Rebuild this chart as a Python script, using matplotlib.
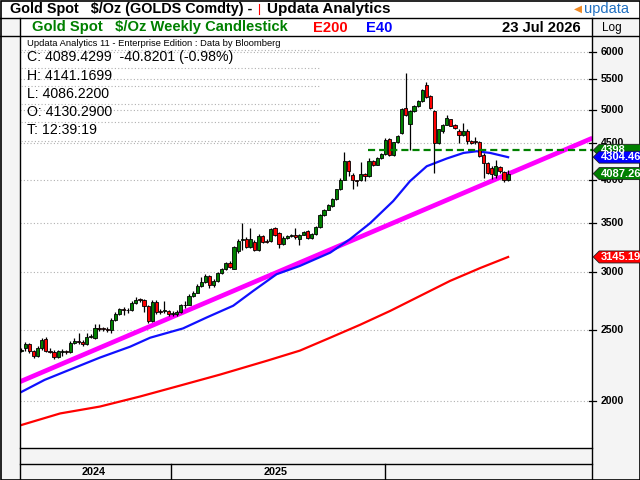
import matplotlib
matplotlib.use('Agg')
import matplotlib.pyplot as plt
from matplotlib.patches import Rectangle, Polygon
import numpy as np

plt.rcParams['font.family'] = ['Liberation Sans', 'DejaVu Sans']

# ---------------- data (weekly candles) ----------------
opens = [2340, 2360, 2390, 2342, 2305, 2360, 2430, 2342, 2336, 2298,
         2335, 2340, 2334, 2397, 2417, 2410, 2392, 2443, 2435, 2518,
         2508, 2505, 2500, 2582, 2630, 2667, 2658, 2662, 2718, 2750,
         2745, 2693, 2573, 2730, 2655, 2650, 2653, 2630, 2628, 2648,
         2700, 2708, 2785, 2812, 2875, 2905, 2960, 2880, 2917, 2992,
         3028, 3090, 3030, 3200, 3320, 3330, 3245, 3300, 3212, 3360,
         3310, 3305, 3440, 3390, 3280, 3340, 3360, 3368, 3330, 3375,
         3410, 3340, 3380, 3455, 3590, 3650, 3690, 3770, 3890, 4012,
         4255, 4075, 4003, 4000, 4088, 4062, 4250, 4205, 4295, 4345,
         4560, 4330, 4510, 4640, 5025, 4780, 4970, 5050, 5130, 5395,
         5215, 4980, 4495, 4680, 4765, 4850, 4760, 4680, 4610, 4680,
         4525, 4530, 4515, 4340, 4225, 4165, 4075, 4170, 4105, 4000]
highs = [2365, 2410, 2400, 2350, 2380, 2440, 2447, 2360, 2345, 2348,
         2357, 2350, 2417, 2435, 2480, 2420, 2478, 2465, 2545, 2545,
         2525, 2520, 2600, 2645, 2680, 2690, 2680, 2735, 2770, 2765,
         2755, 2700, 2745, 2745, 2670, 2735, 2665, 2650, 2660, 2710,
         2740, 2795, 2825, 2885, 2955, 2985, 2970, 2935, 3000, 3040,
         3100, 3110, 3260, 3325, 3500, 3345, 3440, 3320, 3380, 3375,
         3325, 3450, 3455, 3400, 3355, 3370, 3380, 3440, 3385, 3410,
         3420, 3390, 3465, 3600, 3660, 3715, 3780, 3900, 4030, 4380,
         4270, 4090, 4010, 4235, 4100, 4290, 4265, 4310, 4355, 4565,
         4575, 4520, 4615, 5020, 5600, 4985, 5065, 5145, 5330, 5450,
         5230, 4995, 4700, 4780, 4910, 4860, 4770, 4700, 4790, 4700,
         4540, 4590, 4530, 4360, 4240, 4180, 4260, 4185, 4115, 4130]
lows = [2330, 2342, 2325, 2287, 2295, 2350, 2335, 2325, 2282, 2290,
        2305, 2320, 2325, 2390, 2395, 2380, 2385, 2435, 2430, 2490,
        2490, 2485, 2480, 2575, 2620, 2620, 2640, 2655, 2710, 2730,
        2646, 2558, 2565, 2630, 2625, 2640, 2615, 2610, 2615, 2640,
        2675, 2700, 2775, 2805, 2865, 2895, 2855, 2860, 2910, 2985,
        3020, 3040, 3025, 3185, 3215, 3235, 3235, 3200, 3200, 3290,
        3285, 3295, 3360, 3240, 3270, 3325, 3350, 3330, 3270, 3365,
        3330, 3330, 3375, 3445, 3580, 3640, 3680, 3760, 3880, 4000,
        4055, 3890, 3930, 3990, 3990, 4050, 4190, 4195, 4285, 4335,
        4320, 4320, 4500, 4630, 4900, 4405, 4960, 5040, 5120, 5180,
        5010, 4100, 4480, 4640, 4755, 4740, 4700, 4500, 4600, 4490,
        4490, 4480, 4300, 4030, 4080, 4015, 4030, 4100, 3980, 3990]
closes = [2348, 2390, 2342, 2305, 2360, 2422, 2342, 2336, 2298, 2340,
          2340, 2334, 2397, 2417, 2410, 2392, 2443, 2450, 2518, 2508,
          2505, 2500, 2582, 2630, 2667, 2658, 2662, 2718, 2750, 2745,
          2693, 2568, 2730, 2646, 2645, 2656, 2630, 2636, 2648, 2700,
          2708, 2785, 2812, 2875, 2905, 2960, 2880, 2917, 2992, 3028,
          3090, 3050, 3250, 3312, 3330, 3245, 3330, 3212, 3360, 3300,
          3300, 3430, 3370, 3275, 3340, 3360, 3368, 3345, 3375, 3400,
          3340, 3380, 3455, 3590, 3650, 3700, 3770, 3890, 4012, 4255,
          4120, 4000, 3990, 4088, 4062, 4255, 4205, 4295, 4345, 4550,
          4330, 4510, 4600, 5005, 4920, 4970, 5050, 5130, 5315, 5200,
          5025, 4495, 4700, 4765, 4870, 4750, 4720, 4610, 4680, 4525,
          4500, 4520, 4320, 4225, 4095, 4085, 4185, 4120, 4012, 4087]

e40_week = [-0.3, 5.7, 11.9, 19.2, 26.6, 31.5, 39.5, 45.3, 51.8, 56.7, 62.4,
            68.1, 75.5, 80.4, 85.3, 90.9, 95.0, 99.1, 104.0, 108.1, 111.3, 114.6, 119]
e40_val = [2053, 2137, 2207, 2292, 2372, 2440, 2512, 2600, 2698, 2827, 2979,
           3058, 3188, 3328, 3499, 3749, 3991, 4183, 4286, 4362, 4385, 4362, 4304]
e200_week = [-0.3, 9.5, 19.2, 29.0, 38.8, 48.6, 60.1, 68.1, 75.5, 82.8, 90.2,
             97.5, 104.8, 112.2, 119]
e200_val = [1852, 1923, 1965, 2028, 2099, 2173, 2270, 2343, 2440, 2541, 2655,
            2783, 2917, 3038, 3145]
trend_week = [-0.3, 139.6]
trend_val = [2125, 4570]
resist_week = [84.8, 139.6]
resist_val = 4398

price_ticks = [2000, 2500, 3000, 3500, 4000, 4500, 5000, 5500, 6000]
year_labels = ['2024', '2025', '']
year_bounds = [-0.22, 36.7, 88.8, 139.5]

tag_vals = [4398.0, 4304.46, 4087.26, 3145.19]
tag_text = ['4398', '4304.46', '4087.26', '3145.19']
tag_cols = ['#008000', '#0000ff', '#008000', '#ff0000']

info_lines = ['C: 4089.4299  -40.8201 (-0.98%)', 'H: 4141.1699', 'L: 4086.2200',
              'O: 4130.2900', 'T: 12:39:19']

# ---------------- figure ----------------
W, H = 640, 480
fig = plt.figure(figsize=(6.4, 4.8), dpi=100)
GREY = '#f4f4f4'

def fx(x):
    return x / W

def fy(y):
    return 1 - y / H

bg = fig.add_axes([0, 0, 1, 1], zorder=0)
bg.set_xlim(0, W); bg.set_ylim(H, 0); bg.axis('off')
bg.add_patch(Rectangle((0, 0), W, H, fc='white', ec='none'))
bg.add_patch(Rectangle((0, 18), 20, H - 18, fc=GREY, ec='none'))
bg.add_patch(Rectangle((592, 18), 48, H - 18, fc=GREY, ec='none'))
bg.add_patch(Rectangle((20, 448), 572, 32, fc=GREY, ec='none'))

L, R, T, B = 20.4, 592, 36, 448
ax = fig.add_axes([fx(L), fy(B), fx(R - L), (B - T) / H], zorder=1)
ax.set_yscale('log')
ax.set_ylim(1725, 6300)
ax.set_xlim(year_bounds[0], year_bounds[-1])
ax.set_xticks([]); ax.set_yticks([]); ax.minorticks_off()
for s in ax.spines.values():
    s.set_visible(False)

for p in price_ticks:
    ax.axhline(p, color='#b0b0b0', lw=0.8, ls=(0, (1, 2)), zorder=0.5)

# lines
ax.plot(e200_week, e200_val, color='#ff0000', lw=1.6, zorder=2)
ax.plot(trend_week, trend_val, color='#ff00ff', lw=3.4, zorder=2.2, solid_capstyle='butt')
ax.plot(e40_week, e40_val, color='#1010ff', lw=1.6, zorder=2.4)

# candles
bw = 0.78
for k in range(len(closes)):
    o, h, l, c = opens[k], highs[k], lows[k], closes[k]
    col = '#008000' if c >= o else '#ff0000'
    ax.vlines(k, l, h, color='black', lw=0.9, zorder=3)
    lo, hi = min(o, c), max(o, c)
    if hi / lo < 1.003:
        hi = lo * 1.003
    ax.add_patch(Rectangle((k - bw / 2, lo), bw, hi - lo, fc=col, ec='black', lw=0.6, zorder=3.5))

ax.plot(resist_week, [resist_val, resist_val], color='#008000', lw=1.6,
        ls=(0, (3.2, 1.8)), zorder=4)

# right strip axis
axr = fig.add_axes([fx(R), fy(B), fx(W - R), (B - T) / H], zorder=2)
axr.set_yscale('log')
axr.set_ylim(1725, 6300)
axr.set_xlim(0, W - R)
axr.patch.set_alpha(0)
axr.set_xticks([]); axr.set_yticks([]); axr.minorticks_off()
for s in axr.spines.values():
    s.set_visible(False)
for p in price_ticks:
    axr.plot([-3, 4], [p, p], color='black', lw=0.9, clip_on=False)
    axr.text(9, p, str(p), fontsize=7.6, fontweight='bold', va='center', ha='left')

# tags
for v, t, c in zip(tag_vals, tag_text, tag_cols):
    x0, y0 = axr.transData.transform((1.2, v))
    hh = 6
    poly = Polygon([(x0, y0), (x0 + 6, y0 + hh), (x0 + 60, y0 + hh),
                    (x0 + 60, y0 - hh), (x0 + 6, y0 - hh)], closed=True,
                   transform=None, fc=c, ec='#202020', lw=0.6, zorder=5)
    fig.patches.append(poly)
    fig.text((x0 + 8) / W, y0 / H, t, color='white', fontsize=8, fontweight='bold',
             va='center', ha='left', zorder=6)

# overlay for frame lines and texts
fg = fig.add_axes([0, 0, 1, 1], zorder=4)
fg.set_xlim(0, W); fg.set_ylim(H, 0); fg.axis('off'); fg.patch.set_alpha(0)
k_line = dict(color='black', lw=1.0)
fg.plot([0, W], [18, 18], **k_line)
fg.plot([0, W], [36, 36], **k_line)
fg.plot([20, 20], [18, H], **k_line)
fg.plot([592, 592], [18, H], **k_line)
fg.plot([20, 592], [448, 448], **k_line)
fg.plot([20, 592], [464, 464], **k_line)
fg.add_patch(Rectangle((0.5, 0.5), W - 1, H - 1, fill=False, ec='black', lw=1.2))

# year axis
for xb in year_bounds[1:-1]:
    xp = ax.transData.transform((xb, 2000))[0]
    fg.plot([xp, xp], [464, H], **k_line)
for i, lab in enumerate(year_labels):
    xm = ax.transData.transform(((year_bounds[i] + year_bounds[i + 1]) / 2, 2000))[0]
    fg.text(xm - 2, 472, lab, fontsize=7.8, fontweight='bold', ha='center', va='center')

# info panel separators
for yy in [50, 68, 86, 104, 122, 141]:
    fg.plot([21, 320], [yy, yy], color='#b0b0b0', lw=0.8, ls=(0, (1, 2)))

fg.text(27, 43.5, 'Updata Analytics 11 - Enterprise Edition : Data by Bloomberg',
        fontsize=6.75, ha='left', va='center')
for i, s in enumerate(info_lines):
    fg.text(27, 57.5 + 18 * i, s, fontsize=10.2, ha='left', va='center')

# header
fg.text(10, 9.5, 'Gold Spot   $/Oz (GOLDS Comdty) -', fontsize=10.4, fontweight='bold',
        ha='left', va='center')
fg.plot([259, 259], [4, 14], color='#ff0000', lw=0.8)
fg.text(267, 9.5, 'Updata Analytics', fontsize=11, fontweight='bold', ha='left', va='center')
fg.text(574, 8.5, '\u25c0', fontsize=7.5, color='#f08a24', ha='left', va='center',
        family='DejaVu Sans')
fg.text(584, 8.5, 'updata', fontsize=10.5, color='#1f6fc0', ha='left', va='center')

fg.text(32, 27.5, 'Gold Spot   $/Oz Weekly Candlestick', fontsize=10.6, fontweight='bold',
        color='#008000', ha='left', va='center')
fg.text(313, 27.5, 'E200', fontsize=10.6, fontweight='bold', color='#ff0000', ha='left', va='center')
fg.text(366, 27.5, 'E40', fontsize=10.6, fontweight='bold', color='#0000ff', ha='left', va='center')
fg.text(581, 27.5, '23 Jul 2026', fontsize=10.6, fontweight='bold', color='black',
        ha='right', va='center')
fg.text(612, 27.5, 'Log', fontsize=8.5, color='black', ha='center', va='center')

fig.savefig('out.png', dpi=100)
